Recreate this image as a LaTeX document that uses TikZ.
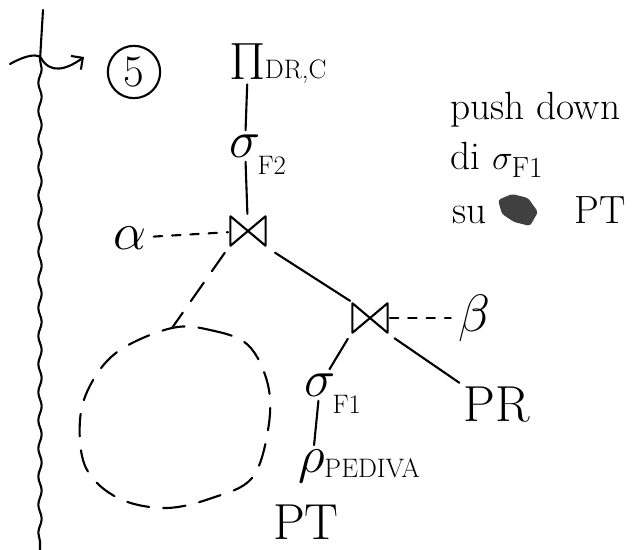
\documentclass[tikz,border=0pt]{standalone}
\usepackage{amsmath,amssymb}
\usetikzlibrary{arrows.meta,decorations.pathmorphing,positioning}

\newcommand{\opsym}[1]{\scalebox{1.5}{$#1$}}

\begin{document}
\begin{tikzpicture}[x=0.025cm,y=-0.025cm,
    op/.style={inner sep=3pt, font=\fontsize{24}{26}\selectfont},
    rel/.style={inner sep=3pt, font=\fontsize{36}{38}\selectfont},
    sub/.style={inner sep=0pt, font=\fontsize{19}{21}\selectfont},
    edge/.style={line width=1.5pt, line cap=round, line join=round},
    joinop/.style={minimum width=28pt, minimum height=24pt, inner sep=0pt,
        path picture={\draw[edge]
            ([shift={(1.5pt,-1.5pt)}]path picture bounding box.north west)
         -- ([shift={(1.5pt,1.5pt)}]path picture bounding box.south west)
         -- ([shift={(-1.5pt,-1.5pt)}]path picture bounding box.north east)
         -- ([shift={(-1.5pt,1.5pt)}]path picture bounding box.south east) -- cycle;}},
    dashedge/.style={edge, dash pattern=on 16pt off 10pt},
    note/.style={anchor=west, inner sep=0pt, font=\fontsize{28}{30}\selectfont}
]
    \useasboundingbox (0,0) rectangle (640,550);

    % time line on the left
    \draw[edge, decorate, decoration={snake, amplitude=1.2pt, segment length=20pt}] (40,60) -- (40,550);
    \draw[edge] (43,10) -- (40,60);
    \draw[edge, -{Straight Barb[length=6pt]}] (10,64) .. controls (28,54) and (38,54) .. (41,58)
        .. controls (50,74) and (66,70) .. (84,57);
    \node[draw, circle, line width=1.5pt, inner sep=4pt, font=\fontsize{32}{32}\selectfont] (step5) at (134,72) {5};

    % query tree
    \node[op, label={[sub, anchor=west, label distance=-5pt]-30:DR,C}] (proj) at (248,62) {\opsym{\Pi}};
    \node[op, label={[sub, anchor=north west, label distance=-6pt]-40:F2}] (sel2) at (245,146) {\opsym{\sigma}};
    \node[joinop] (j1) at (248,231) {};
    \node[op] (alpha) at (130,238) {\opsym{\alpha}};
    \node[joinop] (j2) at (370,318) {};
    \node[op] (beta) at (474,318) {\opsym{\beta}};
    \node[op, label={[sub, anchor=north west, label distance=-6pt]-40:F1}] (sel1) at (320,385) {\opsym{\sigma}};
    \node[rel] (pr) at (497,405) {PR};
    \node[op, label={[sub, anchor=west, label distance=-4pt]-10:PEDIVA}] (ren) at (312,466) {\opsym{\rho}};
    \node[rel] (pt) at (306,522) {PT};

    \coordinate (sub1) at (172,328);
    \draw[dashedge] plot[smooth cycle, tension=0.6] coordinates {(sub1) (210,330) (248,345) (268,385)
        (268,430) (252,478) (212,498) (165,508) (118,498) (86,468) (80,420) (92,382) (120,350)};

    \draw[edge] (proj) -- (sel2);
    \draw[edge] (sel2) -- (j1);
    \draw[edge, shorten <=6pt] (j1.south east) -- (j2.north west);
    \draw[dashedge, shorten <=4pt] (j1.south west) -- (sub1);
    \draw[edge, dash pattern=on 6pt off 7pt, shorten <=2pt] (alpha) -- (j1);
    \draw[edge, dash pattern=on 6pt off 7pt, shorten >=2pt] (j2) -- (beta);
    \draw[edge, shorten <=3pt] (j2.south west) -- (sel1);
    \draw[edge, shorten <=4pt] (j2.south east) -- (pr.north west);
    \draw[edge] (sel1) -- (ren);

    % note on the right
    \node[note] (n1) at (450,110) {push down};
    \node[note] (n2) at (450,160) {di $\sigma_{\mathrm{F1}}$};
    \node[note] (n3) at (452,210) {su \hspace{1.6cm} PT};
    \fill[black!75, rounded corners=2pt] (498,200) -- (512,194) -- (528,198) -- (538,212)
        -- (530,226) -- (514,222) -- (502,214) -- cycle;
\end{tikzpicture}
\end{document}
